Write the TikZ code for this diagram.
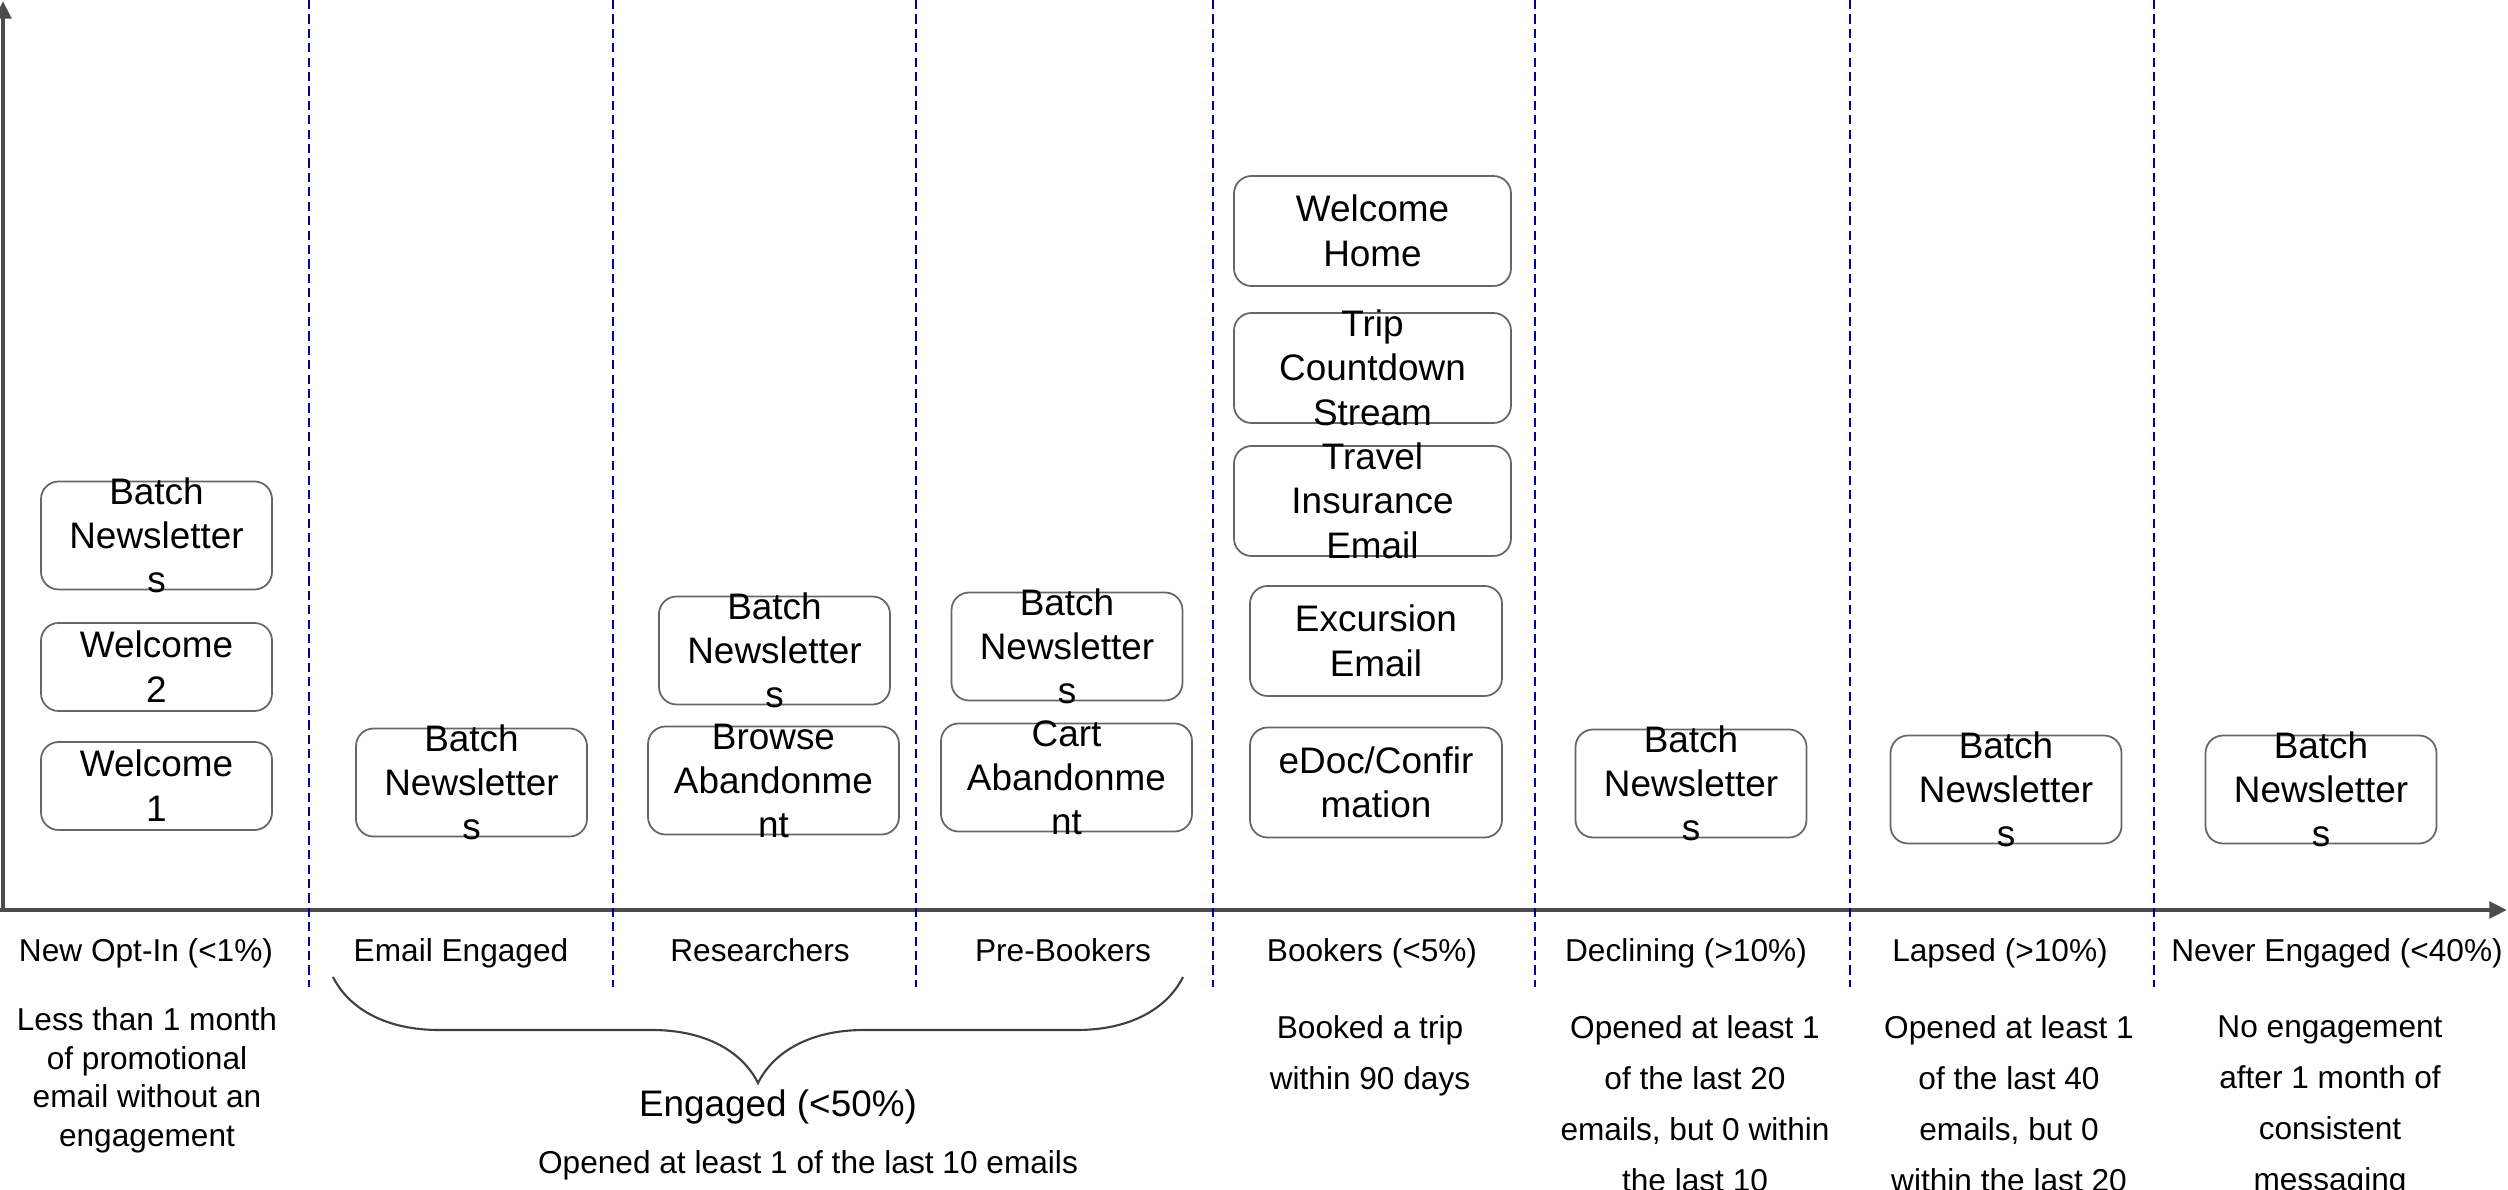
\documentclass[tikz,border=0pt]{standalone}
\usepackage{fontspec}
\setmainfont{Liberation Sans}
\usetikzlibrary{arrows.meta,decorations.pathreplacing}

% texto de caja que puede salirse del borde
\newcommand{\lineas}[1]{\raisebox{-0.37em}[0pt][0pt]{\begin{tabular}{@{}c@{}}#1\end{tabular}}}

\begin{document}
\begin{tikzpicture}[
  caja/.style={draw=black!60, line width=0.5pt, rounded corners=5pt, inner sep=0pt,
               minimum width=2.31cm, minimum height=1.08cm, font=\fontsize{10.5}{12.6}\selectfont},
  eje/.style={draw=black!70, line width=1.4pt, -{Triangle[length=5pt,width=4.6pt]}},
  corte/.style={draw=blue!60!black, line width=0.7pt, dash pattern=on 2.6pt off 1.5pt},
  etiqueta/.style={font=\fontsize{9}{11}\selectfont, text height=1.6ex, text depth=0.45ex, inner sep=0pt},
  nota/.style={align=center, anchor=north, inner sep=0pt, font=\fontsize{9}{14.5}\selectfont},
  llave/.style={draw=black!75, line width=0.6pt, decorate, decoration={brace, mirror, amplitude=1.06cm}}
]
  \useasboundingbox (0,0) rectangle (25.08,11.89);

  % ejes
  \coordinate (origen) at (0.03,2.79);
  \coordinate (arriba) at (0.03,11.88);
  \coordinate (derecha) at (25.07,2.79);
  \draw[eje] (origen) -- (arriba);
  \draw[eje] ([xshift=-0.03cm]origen) -- (derecha);

  % separadores de segmentos
  \foreach \x in {3.09,6.13,9.16,12.13,15.35,18.50,21.54}
    \draw[corte] (\x,11.89) -- (\x,2.02);

  % correos por segmento
  \node[caja] (nb1) at (1.565,6.535) {\lineas{Batch\\Newsletter\\s}};
  \node[caja, minimum height=0.88cm] (w2) at (1.565,5.22) {\lineas{Welcome\\2}};
  \node[caja, minimum height=0.88cm] (w1) at (1.565,4.03) {\lineas{Welcome\\1}};
  \node[caja] (nb2) at (4.715,4.065) {\lineas{Batch\\Newsletter\\s}};
  \node[caja] (nb3) at (7.745,5.385) {\lineas{Batch\\Newsletter\\s}};
  \node[caja, minimum width=2.51cm] (browse) at (7.735,4.085) {\lineas{Browse\\Abandonme\\nt}};
  \node[caja] (nb4) at (10.67,5.425) {\lineas{Batch\\Newsletter\\s}};
  \node[caja, minimum width=2.51cm] (cart) at (10.665,4.115) {\lineas{Cart\\Abandonme\\nt}};
  \node[caja, minimum width=2.77cm, minimum height=1.10cm] (home) at (13.725,9.58) {\lineas{Welcome\\Home}};
  \node[caja, minimum width=2.77cm, minimum height=1.10cm] (trip) at (13.725,8.21) {\lineas{Trip\\Countdown\\Stream}};
  \node[caja, minimum width=2.77cm, minimum height=1.10cm] (travel) at (13.725,6.88) {\lineas{Travel\\Insurance\\Email}};
  \node[caja, minimum width=2.52cm, minimum height=1.10cm] (excursion) at (13.76,5.48) {\lineas{Excursion\\Email}};
  \node[caja, minimum width=2.52cm, minimum height=1.10cm] (edoc) at (13.76,4.065) {\lineas{eDoc/Confir\\mation}};
  \node[caja] (nb5) at (16.91,4.055) {\lineas{Batch\\Newsletter\\s}};
  \node[caja] (nb6) at (20.06,3.995) {\lineas{Batch\\Newsletter\\s}};
  \node[caja] (nb7) at (23.21,3.995) {\lineas{Batch\\Newsletter\\s}};

  % nombres de segmentos
  \node[etiqueta] (optin) at (1.46,2.38) {New Opt-In (<1\%)};
  \node[etiqueta] (emaileng) at (4.61,2.38) {Email Engaged};
  \node[etiqueta] (research) at (7.60,2.38) {Researchers};
  \node[etiqueta] (prebook) at (10.63,2.38) {Pre-Bookers};
  \node[etiqueta] (bookers) at (13.72,2.38) {Bookers (<5\%)};
  \node[etiqueta] (declining) at (16.86,2.38) {Declining (>10\%)};
  \node[etiqueta] (lapsed) at (20.00,2.38) {Lapsed (>10\%)};
  \node[etiqueta] (never) at (23.37,2.38) {Never Engaged (<40\%)};

  % definiciones
  \node[nota, font=\fontsize{9}{11}\selectfont] (dOptin) at (1.47,1.82) {Less than 1 month\\of promotional\\email without an\\engagement};
  \node[nota] (dBook) at (13.70,1.74) {Booked a trip\\within 90 days};
  \node[nota] (dDecl) at (16.95,1.74) {Opened at least 1\\of the last 20\\emails, but 0 within\\the last 10};
  \node[nota] (dLaps) at (20.09,1.74) {Opened at least 1\\of the last 40\\emails, but 0\\within the last 20};
  \node[nota] (dNever) at (23.30,1.74) {No engagement\\after 1 month of\\consistent\\messaging};

  % grupo engaged
  \coordinate (llaveI) at (3.33,2.12);
  \coordinate (llaveD) at (11.83,2.12);
  \draw[llave] (llaveI) -- (llaveD);
  \node[font=\fontsize{10.5}{12.6}\selectfont] (engaged) at (7.78,0.82) {Engaged (<50\%)};
  \node[etiqueta] (engdesc) at (8.08,0.26) {Opened at least 1 of the last 10 emails};
\end{tikzpicture}
\end{document}
